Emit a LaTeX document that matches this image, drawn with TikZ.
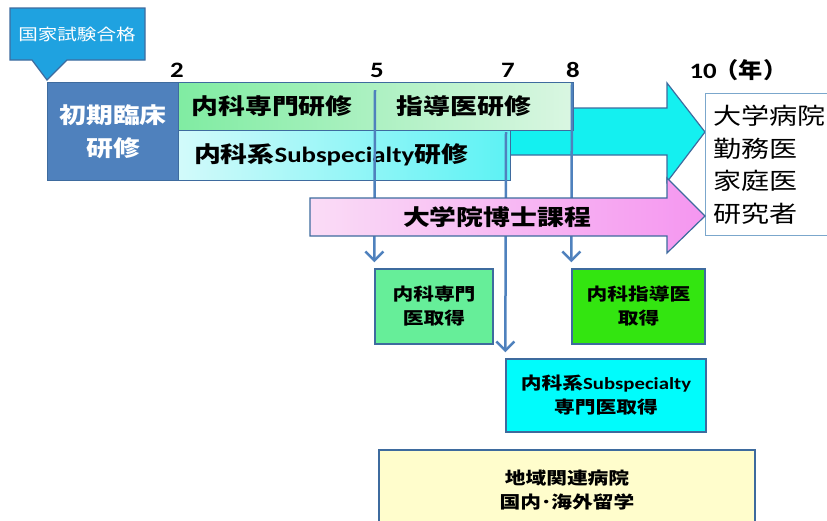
\documentclass[tikz,border=0pt]{standalone}
\usepackage{fontspec}
\setmainfont{Noto Sans CJK JP}[FakeStretch=1.22]
\newfontfamily\latin{Carlito}[FakeStretch=1.22]
\usetikzlibrary{arrows.meta}
\definecolor{calloutblue}{HTML}{1FA2E0}
\definecolor{shokiblue}{HTML}{4F81BD}
\definecolor{edgeblue}{HTML}{3E6B9E}
\definecolor{lineblue}{HTML}{4F81BD}
\definecolor{mintL}{HTML}{80ECA2}
\definecolor{mintR}{HTML}{DAF6E2}
\definecolor{aquaL}{HTML}{D2FAFA}
\definecolor{aquaR}{HTML}{5CF2F4}
\definecolor{arrowcyan}{HTML}{14F0F0}
\definecolor{pinkL}{HTML}{FADCF6}
\definecolor{pinkR}{HTML}{F596F0}
\definecolor{senmongreen}{HTML}{66EE99}
\definecolor{shidogreen}{HTML}{33E510}
\definecolor{subcyan}{HTML}{00FCFC}
\definecolor{paleyellow}{HTML}{FFFDCC}
\definecolor{outcomeedge}{HTML}{7BA7CC}

\begin{document}
\begin{tikzpicture}
  [x=1pt, y=-1pt,
   year/.style={font=\latin\bfseries\fontsize{22}{24}\selectfont},
   row/.style={draw=edgeblue, line width=1.2pt, inner sep=0pt, anchor=north west},
   rowtext/.style={font=\bfseries\fontsize{22}{26}\selectfont},
   bigarrow/.style={draw=edgeblue, line width=1.2pt},
   getbox/.style={draw=edgeblue, line width=1.4pt, inner sep=0pt, align=center,
     font=\bfseries\fontsize{17}{24}\selectfont},
   vline/.style={draw=lineblue, line width=2.5pt, shorten >=6pt,
     -{Straight Barb[length=9pt,width=18pt]}}]
  \useasboundingbox (0,0) rectangle (827,520);
  \clip (0,0) rectangle (827,520);

  % callout
  \filldraw[fill=calloutblue, draw=edgeblue, line width=1.2pt]
    (10,8) -- (145,8) -- (145,60) -- (67,60) -- (47,80) -- (32,60) -- (10,60) -- cycle;
  \node[text=white, font=\fontsize{16}{18}\selectfont] (goukaku) at (77,34) {国家試験合格};

  % years
  \node[year] (y2) at (177,70) {2};
  \node[year] (y5) at (377,70) {5};
  \node[year] (y7) at (508,70) {7};
  \node[year] (y8) at (573,70) {8};
  \node[year, anchor=west] (y10) at (686,70) {10\hspace{-2pt}\bfseries\fontspec{Noto Sans CJK JP}[FakeStretch=1.1]（年）};

  % arrow to the right, behind the rows
  \path[bigarrow, fill=arrowcyan] (500,108) -- (667,108) -- (667,83) -- (705,132)
    -- (667,182) -- (667,155) -- (500,155) -- cycle;

  % training rows
  \node[row, fill=shokiblue, minimum width=131pt, minimum height=98pt, text=white,
    align=center, font=\bfseries\fontsize{22}{33}\selectfont] (shoki) at (47,82) {初期臨床\\研修};
  \node[row, left color=mintL, right color=mintR, minimum width=395pt,
    minimum height=48pt] (senmon) at (178,82) {};
  \node[row, left color=aquaL, right color=aquaR, minimum width=332pt,
    minimum height=50pt] (subsp) at (178,130) {};
  \node[rowtext] (senmontxt) at (272,106) {内科専門研修};
  \node[rowtext] (shidotxt) at (464,106) {指導医研修};
  \node[rowtext] (subsptxt) at (331,155) {内科系{\latin Subspecialty}研修};

  % outcome
  \node[draw=outcomeedge, fill=white, line width=1.2pt, anchor=north west,
    minimum width=130pt, minimum height=142pt, text width=114pt, align=left,
    inner xsep=8pt, font=\fontsize{23}{32.5}\selectfont] (career) at (705,93)
    {大学病院\\勤務医\\家庭医\\研究者};

  % result boxes
  \node[getbox, fill=senmongreen, minimum width=118pt, minimum height=75pt] (sen) at (434,306.5) {内科専門\\医取得};
  \node[getbox, fill=shidogreen, minimum width=133pt, minimum height=75pt] (shido) at (638.5,306.5) {内科指導医\\取得};
  \node[getbox, fill=subcyan, minimum width=200pt, minimum height=73pt] (subget) at (606,395.5) {内科系{\latin Subspecialty}\\専門医取得};
  \node[getbox, fill=paleyellow, minimum width=376pt, minimum height=80pt] (chiiki) at (567,490) {地域関連病院\\国内･海外留学};

  % year lines
  \coordinate (t5) at (375,90);
  \coordinate (t7) at (506,132);
  \coordinate (t8) at (572,83);
  \draw[vline] (t5) -- (sen.north west);
  \draw[vline] (t7) -- (subget.north west);
  \draw[vline] (t8) -- (shido.north west);

  % graduate school arrow
  \path[bigarrow, left color=pinkL, right color=pinkR] (310,198) -- (667,198) -- (667,178)
    -- (705,216) -- (667,253) -- (667,236) -- (310,236) -- cycle;
  \node[rowtext] (hakase) at (497,217) {大学院博士課程};
\end{tikzpicture}
\end{document}
